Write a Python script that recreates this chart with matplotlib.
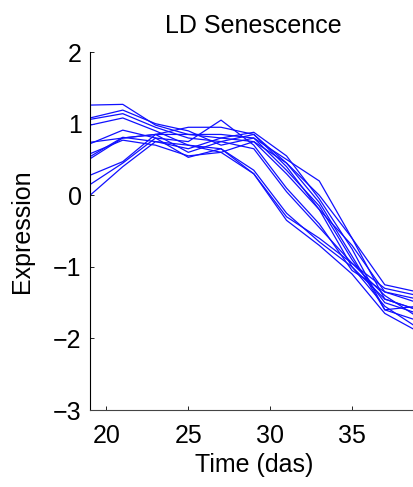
import matplotlib.pyplot as plt
import numpy as np

plt.rcParams['font.family'] = ['Liberation Sans', 'DejaVu Sans']

# time points (days after sowing)
days = [19, 21, 23, 25, 27, 29, 31, 33, 35, 37, 39]

# expression profiles, one list per gene
gene_01 = [1.26, 1.27, 0.98, 0.85, 0.80, 0.75, 0.30, -0.20, -0.70, -1.35, -1.45]
gene_02 = [1.08, 1.19, 1.00, 0.90, 0.70, 0.80, 0.50, 0.20, -0.60, -1.45, -1.60]
gene_03 = [1.06, 1.14, 0.95, 0.80, 0.75, 0.85, 0.45, -0.10, -0.85, -1.60, -1.55]
gene_04 = [0.98, 1.08, 0.90, 0.70, 0.65, 0.30, -0.30, -0.60, -0.95, -1.40, -1.70]
gene_05 = [0.74, 0.80, 0.85, 0.95, 0.95, 0.85, 0.40, -0.20, -1.00, -1.55, -1.85]
gene_06 = [0.72, 0.91, 0.80, 0.75, 1.05, 0.70, 0.10, -0.40, -1.05, -1.35, -1.50]
gene_07 = [0.58, 0.77, 0.70, 0.55, 0.60, 0.30, -0.35, -0.70, -1.10, -1.65, -1.90]
gene_08 = [0.54, 0.81, 0.75, 0.65, 0.80, 0.88, 0.55, -0.05, -0.75, -1.60, -1.75]
gene_09 = [0.51, 0.80, 0.85, 0.60, 0.75, 0.65, 0.05, -0.45, -0.95, -1.30, -1.40]
gene_10 = [0.28, 0.47, 0.85, 0.85, 0.85, 0.80, 0.35, -0.15, -0.90, -1.50, -1.65]
gene_11 = [0.15, 0.45, 0.80, 0.53, 0.65, 0.35, -0.25, -0.65, -1.00, -1.45, -1.60]
gene_12 = [0.00, 0.40, 0.75, 0.70, 0.60, 0.75, 0.45, 0.00, -0.60, -1.25, -1.35]

genes = [gene_01, gene_02, gene_03, gene_04, gene_05, gene_06,
         gene_07, gene_08, gene_09, gene_10, gene_11, gene_12]

fig = plt.figure(figsize=(4.13, 4.87), dpi=100)
ax = fig.add_axes([0.218, 0.158, 0.793, 0.735])

for g in genes:
    ax.plot(days, g, color="#1010ff", linewidth=0.9)

ax.set_xlim(19, 39)
ax.set_ylim(-3, 2)
ax.set_xticks([20, 25, 30, 35])
ax.set_yticks([-3, -2, -1, 0, 1, 2])
ax.set_yticklabels(["\u22123", "\u22122", "\u22121", "0", "1", "2"])

ax.spines["top"].set_visible(False)
ax.spines["right"].set_visible(False)
ax.spines["left"].set_linewidth(0.8)
ax.spines["bottom"].set_linewidth(0.8)
ax.spines["bottom"].set_color("#444444")
ax.tick_params(direction="in", length=3, width=0.6, labelsize=18)
ax.tick_params(axis="x", pad=10)
ax.tick_params(axis="y", pad=6)

ax.set_title("LD Senescence", fontsize=18, pad=14)
ax.set_xlabel("Time (das)", fontsize=18, labelpad=4)
ax.set_ylabel("Expression", fontsize=18, labelpad=14)

fig.savefig("out.png", dpi=100)
plt.close(fig)
